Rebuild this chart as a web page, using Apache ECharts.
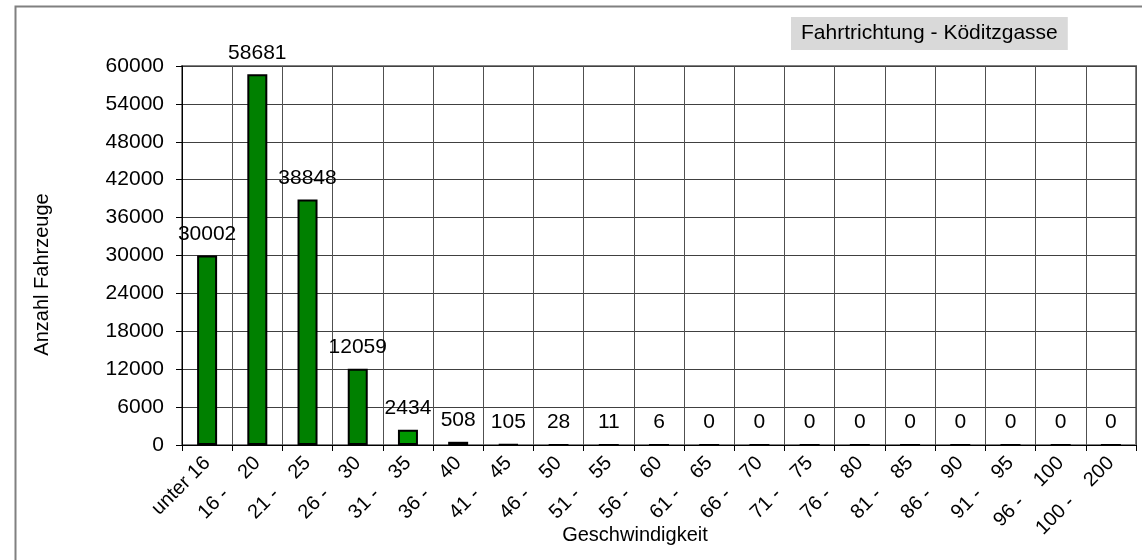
<!DOCTYPE html>
<html>
<head>
<meta charset="utf-8">
<script src="https://cdn.jsdelivr.net/npm/echarts@6/dist/echarts.min.js"></script>
<style>
    html, body {margin: 0; padding: 0; background: #fff;}
    #chart {width: 1142px; height: 560px;}
</style>
</head>
<body>
<div id="chart"></div>
<script>
// Geschwindigkeitsklassen
const categories = ['unter 16', '16 -    20', '21 -    25', '26 -    30', '31 -    35', '36 -    40',
    '41 -    45', '46 -    50', '51 -    55', '56 -    60', '61 -    65', '66 -    70', '71 -    75',
    '76 -    80', '81 -    85', '86 -    90', '91 -    95', '96 -    100', '100 -    200'];
// Anzahl Fahrzeuge je Klasse
const counts = [30002, 58681, 38848, 12059, 2434, 508, 105, 28, 11, 6, 0, 0, 0, 0, 0, 0, 0, 0, 0];
const yTicks = {min: 0, max: 60000, interval: 6000};

const font = 'Arial, "Liberation Sans", sans-serif';

let myChart = echarts.init(document.getElementById('chart'));

myChart.setOption({
    backgroundColor: '#fff',
    animation: false,
    title: {
        text: 'Fahrtrichtung - Köditzgasse',
        left: 791,
        top: 17,
        padding: [5, 10],
        backgroundColor: '#d9d9d9',
        textStyle: {fontFamily: font, fontSize: 21, fontWeight: 'normal', color: '#000', lineHeight: 23}
    },
    // aeusserer Rahmen
    graphic: [{
        type: 'rect',
        left: 13,
        top: 4,
        shape: {width: 1200, height: 600},
        style: {fill: 'none', stroke: '#808080', lineWidth: 2},
        silent: true
    }],
    grid: {
        left: 182,
        right: 6,
        top: 66,
        bottom: 115,
        outerBoundsMode: 'none',
        containLabel: false,
        show: true,
        borderColor: '#808080',
        borderWidth: 2
    },
    xAxis: {
        type: 'category',
        data: categories,
        name: 'Geschwindigkeit',
        nameLocation: 'middle',
        nameGap: 80,
        nameMoveOverlap: false,
        nameTextStyle: {fontFamily: font, fontSize: 20, color: '#000', padding: [0, 48, 0, 0]},
        axisLine: {lineStyle: {color: '#000', width: 1}},
        axisTick: {show: true, length: 6, lineStyle: {color: '#000'}},
        axisLabel: {
            interval: 0,
            rotate: 45,
            margin: 15,
            fontFamily: font,
            fontSize: 20,
            color: '#000'
        },
        splitLine: {show: true, interval: 0, lineStyle: {color: '#505050', width: 1}}
    },
    yAxis: {
        type: 'value',
        min: yTicks.min,
        max: yTicks.max,
        interval: yTicks.interval,
        name: 'Anzahl Fahrzeuge',
        nameLocation: 'middle',
        nameGap: 130,
        nameMoveOverlap: false,
        nameTextStyle: {fontFamily: font, fontSize: 20, color: '#000', padding: [0, 38, 0, 0]},
        axisLine: {show: true, lineStyle: {color: '#000', width: 1}},
        axisTick: {show: true, length: 6, lineStyle: {color: '#000'}},
        axisLabel: {margin: 18, fontFamily: font, fontSize: 21, color: '#000', formatter: (v) => String(v)},
        splitLine: {show: true, lineStyle: {color: '#404040', width: 1}}
    },
    series: [{
        type: 'bar',
        data: counts,
        barWidth: 20,
        itemStyle: {
            color: (p) => p.dataIndex === 4 ? '#009900' : '#008000',
            borderColor: '#000',
            borderWidth: 2
        },
        label: {
            show: true,
            position: 'top',
            distance: 11,
            fontFamily: font,
            fontSize: 21,
            color: '#000'
        }
    }]
});
</script>
</body>
</html>
